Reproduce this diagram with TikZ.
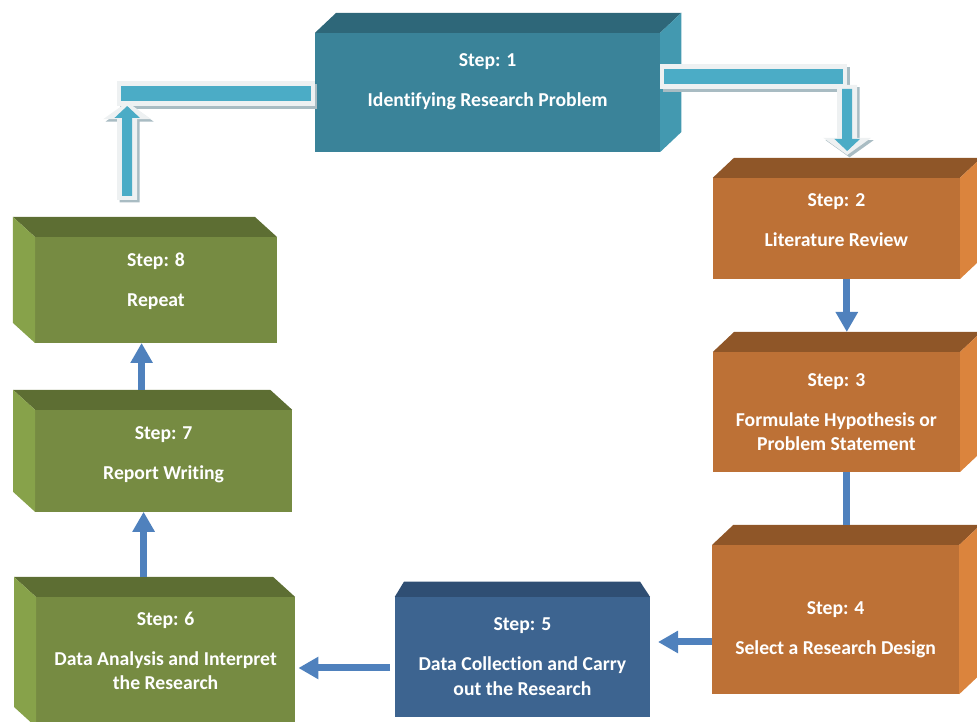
\documentclass[tikz,border=0pt]{standalone}
\usepackage{fontspec}
\setmainfont{Carlito}[Ligatures=NoCommon]
\usepackage{tikz}
\usetikzlibrary{arrows.meta}
\definecolor{StepTeal}{HTML}{3A8399}
\definecolor{StepTealTop}{HTML}{2E6779}
\definecolor{StepTealSide}{HTML}{4399B0}
\definecolor{StepOrange}{HTML}{BD7136}
\definecolor{StepOrangeTop}{HTML}{8F5628}
\definecolor{StepOrangeSide}{HTML}{DB843D}
\definecolor{StepNavy}{HTML}{3D6490}
\definecolor{StepNavyTop}{HTML}{2F4E73}
\definecolor{StepGreen}{HTML}{768B42}
\definecolor{StepGreenTop}{HTML}{5D6E33}
\definecolor{StepGreenSide}{HTML}{87A24A}
\definecolor{FlowBlue}{HTML}{4F81BD}
\definecolor{BigAqua}{HTML}{4BACC6}
\definecolor{BigRim}{HTML}{EEF1F2}
\definecolor{BigShade}{HTML}{A9BCC3}
\tikzset{
    % Front faces of the blocks
    stepbox/.style={
        rectangle,
        text=white,
        font=\bfseries\fontsize{14}{17.5}\selectfont,
        align=center,
        inner sep=0pt,
        outer sep=0pt
    },
    tealbox/.style={stepbox, fill=StepTeal},
    orangebox/.style={stepbox, fill=StepOrange},
    navybox/.style={stepbox, fill=StepNavy},
    greenbox/.style={stepbox, fill=StepGreen},
    % Arrow styles
    flowarrow/.style={
        -{Triangle[width=0.53cm,length=0.5cm]},
        line width=0.175cm,
        draw=FlowBlue
    },
    flowline/.style={
        line width=0.175cm,
        draw=FlowBlue
    },
    bigbar/.style={
        draw=BigRim,
        line width=0.625cm,
        preaction={draw=BigShade, line width=0.625cm, transform canvas={shift={(0.06,-0.06)}}},
        postaction={draw=BigAqua, line width=0.375cm, shorten <=0.1cm, shorten >=0.1cm}
    },
    bigarrow/.style={
        draw=BigRim,
        line width=0.5cm,
        -{Triangle[width=1.18cm,length=0.43cm]},
        preaction={draw=BigShade, line width=0.5cm, -{Triangle[width=1.18cm,length=0.43cm]},
                   transform canvas={shift={(0.06,-0.06)}}},
        postaction={draw=BigAqua, line width=0.25cm, -{Triangle[width=0.62cm,length=0.3cm]},
                    shorten <=0.1cm, shorten >=0.1cm}
    }
}
\begin{document}
\begin{tikzpicture}
    \useasboundingbox (0,0) rectangle (24.425,18.05);

    % front faces (struts move the text off centre)
    \node[tealbox, minimum width=8.63cm, minimum height=2.98cm] (s1) at (12.19,15.74) {Step: 1\\[11pt]Identifying Research Problem\rule[-17pt]{0pt}{0pt}};
    \node[orangebox, minimum width=6.18cm, minimum height=2.53cm] (s2) at (20.91,12.34) {Step: 2\\[11pt]Literature Review\rule[-12pt]{0pt}{0pt}};
    \node[orangebox, minimum width=6.18cm, minimum height=3cm] (s3) at (20.91,7.75) {Step: 3\\[11pt]Formulate Hypothesis or\\Problem Statement};
    \node[orangebox, minimum width=6.18cm, minimum height=3.73cm] (s4) at (20.89,2.56) {\rule{0pt}{24pt}Step: 4\\[11pt]Select a Research Design};
    \node[navybox, minimum width=6.38cm, minimum height=3cm] (s5) at (13.06,1.63) {Step: 5\\[11pt]Data Collection and Carry\\out the Research};
    \node[greenbox, minimum width=6.48cm, minimum height=3.25cm] (s6) at (4.14,1.5) {Step: 6\\[11pt]Data Analysis and Interpret\\the Research\rule[-16pt]{0pt}{0pt}};
    \node[greenbox, minimum width=6.43cm, minimum height=2.55cm] (s7) at (4.09,6.53) {Step: 7\\[11pt]Report Writing\rule[-10.5pt]{0pt}{0pt}};
    \node[greenbox, minimum width=6.05cm, minimum height=2.65cm] (s8) at (3.9,10.8) {Step: 8\\[11pt]Repeat\rule[-15pt]{0pt}{0pt}};

    % top and side faces
    \fill[StepTealTop] (s1.north west) -- ++(0.53,0.5) -- ([shift={(0.53,0.5)}]s1.north east) -- (s1.north east) -- cycle;
    \fill[StepTealSide] (s1.north east) -- ++(0.53,0.5) -- ([shift={(0.53,0.5)}]s1.south east) -- (s1.south east) -- cycle;
    \foreach \s in {s2,s3,s4} {
        \fill[StepOrangeTop] (\s.north west) -- ++(0.53,0.5) -- ([shift={(0.53,0.5)}]\s.north east) -- (\s.north east) -- cycle;
        \fill[StepOrangeSide] (\s.north east) -- ++(0.53,0.5) -- ([shift={(0.53,0.5)}]\s.south east) -- (\s.south east) -- cycle;
    }
    \fill[StepNavyTop] (s5.north west) -- ++(0.23,0.38) -- ([shift={(-0.25,0.38)}]s5.north east) -- (s5.north east) -- cycle;
    \foreach \s in {s6,s7,s8} {
        \fill[StepGreenTop] (\s.north east) -- ++(-0.55,0.5) -- ([shift={(-0.55,0.5)}]\s.north west) -- (\s.north west) -- cycle;
        \fill[StepGreenSide] (\s.north west) -- ++(-0.55,0.5) -- ([shift={(-0.55,0.5)}]\s.south west) -- (\s.south west) -- cycle;
    }

    % arrow ends
    \coordinate (s2top) at ([shift={(0.27,0.57)}]s2.north);
    \coordinate (s3top) at ([shift={(0.26,0.5)}]s3.north);
    \coordinate (s4top) at ([shift={(0.26,0.5)}]s4.north);
    \coordinate (s6top) at ([shift={(-0.55,0.5)}]s6.north);
    \coordinate (s7top) at ([shift={(-0.55,0.5)}]s7.north);
    \coordinate (s4out) at ([yshift=-0.56cm]s4.west);
    \coordinate (s5out) at ([yshift=-0.28cm]s5.west);
    \coordinate (elbowR) at (21.18,16.13);
    \coordinate (elbowL) at (2.93,15.7);
    \coordinate (upstart) at (3.18,13.05);

    \draw[flowarrow] (s2.south -| s3top) -- (s3top);
    \draw[flowline] (s3.south -| s4top) -- (s4top);
    \draw[flowarrow, shorten >=0.2cm] (s4out) -- (s4out -| s5.east);
    \draw[flowarrow, shorten <=0.12cm, shorten >=0.08cm] (s5out) -- (s5out -| s6.east);
    \draw[flowarrow] (s6top) -- (s6top |- s7.south);
    \draw[flowarrow] (s7top) -- (s7top |- s8.south);

    \draw[bigbar] (s1.east |- elbowR) -- (elbowR);
    \draw[bigarrow] ([yshift=-0.2cm]elbowR) -- (s2top);
    \draw[bigbar] (s1.west |- elbowL) -- (elbowL);
    \draw[bigarrow] (upstart) -- ([shift={(0.25,-0.2)}]elbowL);
\end{tikzpicture}
\end{document}
